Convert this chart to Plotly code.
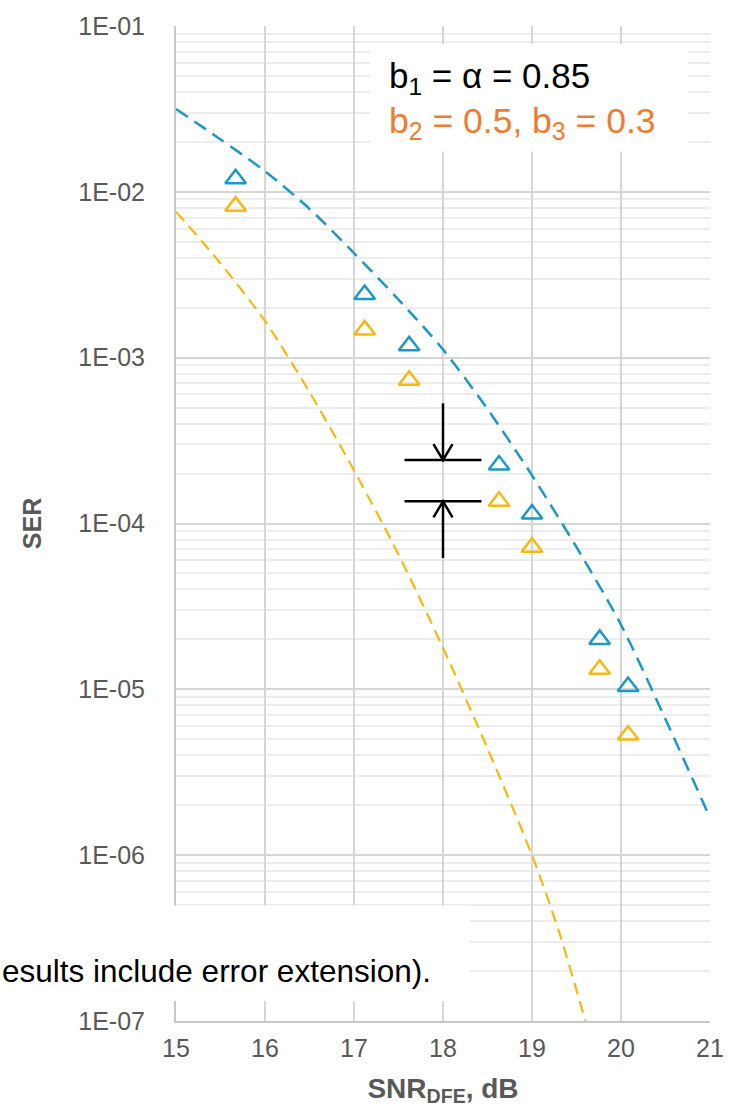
import numpy as np
import plotly.graph_objects as go

# ---- data -------------------------------------------------------------
# dashed analytic curves (SER vs SNR_DFE)
blue_curve_snr = [15.0, 15.5, 16.0, 16.5, 17.0, 17.5, 18.0, 18.5, 19.0, 19.5, 20.0, 20.5, 21.0]
blue_curve_ser = [3.16e-2, 2.07e-2, 1.33e-2, 7.9e-3, 4.27e-3, 2.24e-3, 1.12e-3,
                  4.9e-4, 1.95e-4, 7.2e-5, 2.45e-5, 6.6e-6, 1.68e-6]

yellow_curve_snr = [15.0, 15.5, 16.0, 16.5, 17.0, 17.5, 18.0, 18.5, 19.0, 19.3, 19.6]
yellow_curve_ser = [7.6e-3, 3.7e-3, 1.66e-3, 6.2e-4, 2.09e-4, 6.5e-5, 1.78e-5,
                    4.4e-6, 1.0e-6, 3.5e-7, 1.0e-7]

# simulated points
marker_snr = [15.67, 17.12, 17.62, 18.63, 19.0, 19.76, 20.08]
blue_ser = [1.2e-2, 2.4e-3, 1.18e-3, 2.25e-4, 1.14e-4, 2.0e-5, 1.04e-5]
yellow_ser = [8.2e-3, 1.47e-3, 7.3e-4, 1.36e-4, 7.2e-5, 1.32e-5, 5.3e-6]

# axis ticks
x_ticks = [15, 16, 17, 18, 19, 20, 21]
y_ticks = [1e-7, 1e-6, 1e-5, 1e-4, 1e-3, 1e-2, 1e-1]
y_tick_text = ["1E-07", "1E-06", "1E-05", "1E-04", "1E-03", "1E-02", "1E-01"]

# gap bracket: SNR position and the index of the point pair it spans
bracket_snr = 18.0
bracket_idx = 3

# ---- style ------------------------------------------------------------
BLUE = "#1B98C6"
YELLOW = "#F5B90F"
ORANGE = "#ED7D31"
GRID = "#D6D6D6"
MINOR_GRID = "#EDEDED"
TICK_COLOR = "#595959"
FONT = "Liberation Sans, Arial, sans-serif"

W, H = 743, 1115
ML, MR, MT, MB = 176, 33, 22, 94
plot_w = W - ML - MR
plot_h = H - MT - MB
px_per_db = plot_w / (x_ticks[-1] - x_ticks[0])
px_per_decade = plot_h / 6.0

fig = go.Figure()

fig.add_trace(go.Scatter(
    x=blue_curve_snr, y=blue_curve_ser, mode="lines",
    line=dict(color=BLUE, width=2.5, dash="14px,8px", shape="spline", smoothing=0.8),
    hoverinfo="skip", showlegend=False))
fig.add_trace(go.Scatter(
    x=yellow_curve_snr, y=yellow_curve_ser, mode="lines",
    line=dict(color=YELLOW, width=2.2, dash="12px,7px", shape="spline", smoothing=0.8),
    hoverinfo="skip", showlegend=False))

fig.add_trace(go.Scatter(
    x=marker_snr, y=blue_ser, mode="markers",
    marker=dict(symbol="triangle-up-open", size=18, color=BLUE, line=dict(width=2.5, color=BLUE)),
    showlegend=False))
fig.add_trace(go.Scatter(
    x=marker_snr, y=yellow_ser, mode="markers",
    marker=dict(symbol="triangle-up-open", size=18, color=YELLOW, line=dict(width=2.5, color=YELLOW)),
    showlegend=False))

# ---- gap bracket (two bars with inward-pointing arrows) ---------------
hi = blue_ser[bracket_idx] * 10 ** (5 / px_per_decade)
lo = yellow_ser[bracket_idx]
half_bar = 38.5 / px_per_db
stem = 10 ** (57 / px_per_decade)
wing_dx = 9.5 / px_per_db
wing_dy = 10 ** (16 / px_per_decade)
bx, by = [], []
# horizontal bars
for lvl in (hi, lo):
    bx += [bracket_snr - half_bar, bracket_snr + half_bar, None]
    by += [lvl, lvl, None]
# stem from above down to the upper bar, stem from below up to the lower bar
bx += [bracket_snr, bracket_snr, None, bracket_snr, bracket_snr, None]
by += [hi * stem, hi, None, lo / stem, lo, None]
# open arrow heads
bx += [bracket_snr - wing_dx, bracket_snr, bracket_snr + wing_dx, None]
by += [hi * wing_dy, hi, hi * wing_dy, None]
bx += [bracket_snr - wing_dx, bracket_snr, bracket_snr + wing_dx, None]
by += [lo / wing_dy, lo, lo / wing_dy, None]
fig.add_trace(go.Scatter(x=bx, y=by, mode="lines",
                         line=dict(color="black", width=2.5),
                         hoverinfo="skip", showlegend=False))

# minor log gridlines (2..9 of every decade)
minor_vals = [m * 10.0 ** e for e in range(-7, -1) for m in range(2, 10)]


def px_x(p):
    return (p - ML) / plot_w


def px_y(p):
    return (H - MB - p) / plot_h


# text box with coefficients
fig.add_shape(type="rect", xref="paper", yref="paper",
              x0=px_x(370), x1=px_x(688), y0=px_y(148), y1=px_y(40),
              fillcolor="white", line=dict(width=0), layer="above")
fig.add_annotation(xref="paper", yref="paper", x=px_x(387), y=px_y(74),
                   xanchor="left", yanchor="middle", showarrow=False,
                   text="b<sub>1</sub> = α = 0.85",
                   font=dict(family=FONT, size=35, color="black"))
fig.add_annotation(xref="paper", yref="paper", x=px_x(387), y=px_y(119),
                   xanchor="left", yanchor="middle", showarrow=False,
                   text="b<sub>2</sub> = 0.5, b<sub>3</sub> = 0.3",
                   font=dict(family=FONT, size=35.5, color=ORANGE))

# caption strip
fig.add_shape(type="rect", xref="paper", yref="paper",
              x0=px_x(0), x1=px_x(470), y0=px_y(1001), y1=px_y(905),
              fillcolor="white", line=dict(width=0), layer="above")
fig.add_annotation(xref="paper", yref="paper", x=px_x(0), y=px_y(971),
                   xanchor="left", yanchor="middle", showarrow=False,
                   text="esults include error extension).",
                   font=dict(family=FONT, size=31.5, color="black"))

fig.update_layout(
    width=W, height=H,
    margin=dict(l=ML, r=MR, t=MT, b=MB, pad=0),
    paper_bgcolor="white", plot_bgcolor="white",
    font=dict(family=FONT, color=TICK_COLOR),
    xaxis=dict(
        range=[x_ticks[0], x_ticks[-1]], tickmode="array", tickvals=x_ticks,
        showgrid=True, gridcolor=GRID, gridwidth=2,
        showline=True, linecolor="#C8C8C8", linewidth=2, zeroline=False,
        ticks="", ticklabelstandoff=4,
        tickfont=dict(family=FONT, size=25, color=TICK_COLOR),
        title=dict(text="<b>SNR<sub>DFE</sub>, dB</b>", standoff=17,
                   font=dict(family=FONT, size=28, color=TICK_COLOR)),
    ),
    yaxis=dict(
        type="log", range=[-7, -1], tickmode="array",
        tickvals=y_ticks, ticktext=y_tick_text,
        showgrid=True, gridcolor=GRID, gridwidth=2,
        showline=True, linecolor="#C8C8C8", linewidth=2, zeroline=False,
        ticks="", ticklabelstandoff=24,
        tickfont=dict(family=FONT, size=25, color=TICK_COLOR),
        minor=dict(tickmode="array", tickvals=minor_vals, showgrid=True,
                   gridcolor=MINOR_GRID, gridwidth=1.5, ticks=""),
        title=dict(text="<b>SER</b>", standoff=30,
                   font=dict(family=FONT, size=25, color=TICK_COLOR)),
    ),
)

fig.write_html("out.html")
